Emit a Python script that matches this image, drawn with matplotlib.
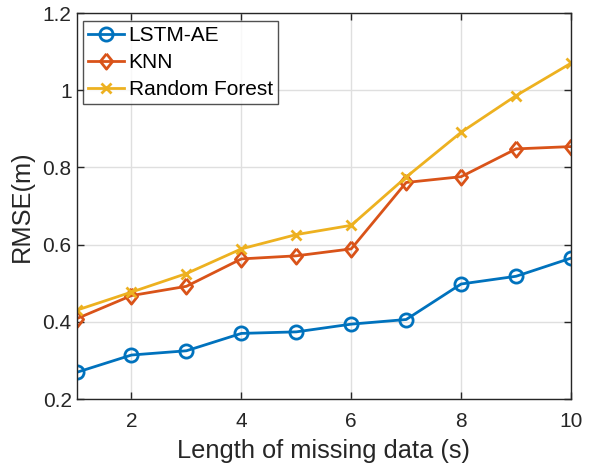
import matplotlib
matplotlib.use("Agg")
import matplotlib.pyplot as plt
from matplotlib.ticker import FormatStrFormatter

plt.rcParams['font.family'] = ['Liberation Sans', 'DejaVu Sans']

lengths = [1, 2, 3, 4, 5, 6, 7, 8, 9, 10]
lstm_ae = [0.269, 0.314, 0.325, 0.370, 0.374, 0.394, 0.406, 0.498, 0.518, 0.565]
knn = [0.408, 0.468, 0.492, 0.563, 0.571, 0.589, 0.761, 0.776, 0.848, 0.854]
rforest = [0.430, 0.477, 0.525, 0.589, 0.626, 0.650, 0.775, 0.891, 0.986, 1.070]

c_blue = '#0072BD'
c_red = '#D95319'
c_yel = '#EDB120'
dark = '#262626'

# matlab-like diamond, a bit wider than mpl 'd'
diamond = [(0, 1), (0.8, 0), (0, -1), (-0.8, 0), (0, 1)]

fig = plt.figure(figsize=(5.95, 4.7), dpi=100)
ax = fig.add_axes([0.1286, 0.151, 0.9597 - 0.1286, 0.9723 - 0.151])

ax.plot(lengths, lstm_ae, color=c_blue, lw=2, marker='o', ms=9.5,
        mfc='none', mew=2, label='LSTM-AE')
ax.plot(lengths, knn, color=c_red, lw=2, marker=diamond, ms=11,
        mfc='none', mew=2, label='KNN')
ax.plot(lengths, rforest, color=c_yel, lw=2, marker='x', ms=7,
        mew=2, label='Random Forest')

ax.set_xlim(1, 10)
ax.set_ylim(0.2, 1.2)
ax.set_xticks([2, 4, 6, 8, 10])
ax.set_yticks([0.2, 0.4, 0.6, 0.8, 1.0, 1.2])
ax.yaxis.set_major_formatter(FormatStrFormatter('%g'))

ax.grid(True, color='#dfdfdf', lw=1)
ax.set_axisbelow(True)
ax.tick_params(direction='in', top=True, right=True, length=5,
               labelsize=15, colors=dark, width=1)
ax.tick_params(axis='x', pad=9)
for sp in ax.spines.values():
    sp.set_color(dark)
    sp.set_linewidth(1)

ax.set_xlabel('Length of missing data (s)', fontsize=18.3, color=dark, labelpad=6)
ax.set_ylabel('RMSE(m)', fontsize=18.3, color=dark, labelpad=6)

leg = ax.legend(loc='upper left', fontsize=15, frameon=True, fancybox=False,
                edgecolor=dark, borderpad=0.25, labelspacing=0.38,
                handlelength=1.75, handletextpad=0.2,
                bbox_to_anchor=(0.0, 0.995), borderaxespad=0.3)
leg.get_frame().set_linewidth(1)

fig.savefig('out.png', dpi=100)
